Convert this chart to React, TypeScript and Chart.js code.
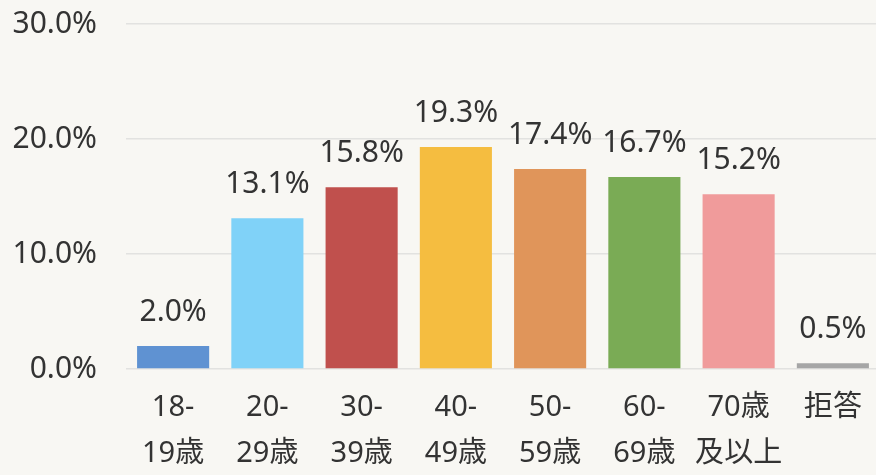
import React, { useEffect, useRef } from "react";
import { Chart, registerables } from "chart.js";

Chart.register(...registerables);

const categories: string[][] = [
  ["18-", "19歳"],
  ["20-", "29歳"],
  ["30-", "39歳"],
  ["40-", "49歳"],
  ["50-", "59歳"],
  ["60-", "69歳"],
  ["70歳", "及以上"],
  ["拒答"],
];
const values: number[] = [2.0, 13.1, 15.8, 19.3, 17.4, 16.7, 15.2, 0.5];
const barColors: string[] = [
  "#5f92d2",
  "#80d2f8",
  "#c0504d",
  "#f5bd40",
  "#e0955a",
  "#7aab55",
  "#f09b9b",
  "#a6a6a6",
];
const yTicks: number[] = [0, 10, 20, 30];

const FONT = "'Noto Sans', 'Noto Sans CJK TC', sans-serif";
const TEXT = "#333333";

const labelPlugin = {
  id: "barLabels",
  afterDatasetsDraw(chart: any) {
    const ctx = chart.ctx;
    const meta = chart.getDatasetMeta(0);
    ctx.save();
    ctx.font = `30px ${FONT}`;
    ctx.fillStyle = TEXT;
    ctx.textAlign = "center";
    ctx.textBaseline = "alphabetic";
    meta.data.forEach((bar: any, i: number) => {
      ctx.fillText(values[i].toFixed(1) + "%", bar.x, bar.y - 25);
    });
    ctx.restore();
  },
};

export default function App() {
  const ref = useRef<HTMLCanvasElement | null>(null);
  useEffect(() => {
    if (!ref.current) return;
    const chart = new Chart(ref.current, {
      type: "bar",
      data: {
        labels: categories,
        datasets: [
          {
            data: values,
            backgroundColor: barColors,
            categoryPercentage: 1,
            barPercentage: 0.765,
          },
        ],
      },
      options: {
        animation: false,
        responsive: false,
        maintainAspectRatio: false,
        layout: { padding: { top: 24, right: 0, left: 0, bottom: 0 } },
        plugins: {
          legend: { display: false },
          tooltip: { enabled: false },
        },
        scales: {
          x: {
            grid: { display: false, drawTicks: false },
            border: { display: false },
            ticks: {
              color: TEXT,
              font: { family: FONT, size: 29, lineHeight: 1.58 },
              padding: 16,
              maxRotation: 0,
              autoSkip: false,
            },
            afterFit: (s: any) => {
              s.height = 106;
              s.paddingLeft = 0;
              s.paddingRight = 0;
            },
          },
          y: {
            min: 0,
            max: 30,
            afterBuildTicks: (s: any) => {
              s.ticks = yTicks.map((v) => ({ value: v }));
            },
            grid: { color: "#e2e2e0", lineWidth: 1.5, drawTicks: false },
            border: { display: false },
            ticks: {
              color: TEXT,
              font: { family: FONT, size: 30 },
              padding: 29,
              callback: (v: any) => Number(v).toFixed(1) + "%",
            },
            afterFit: (s: any) => {
              s.width = 126;
              s.paddingTop = 0;
              s.paddingBottom = 0;
            },
          },
        },
      },
      plugins: [labelPlugin],
    });
    return () => chart.destroy();
  }, []);
  return (
    <div
      style={{
        position: "fixed",
        left: 0,
        top: 0,
        width: 876,
        height: 475,
        overflow: "hidden",
        background: "#f8f7f3",
      }}
    >
      <canvas ref={ref} width={880} height={475} style={{ display: "block" }} />
    </div>
  );
}
